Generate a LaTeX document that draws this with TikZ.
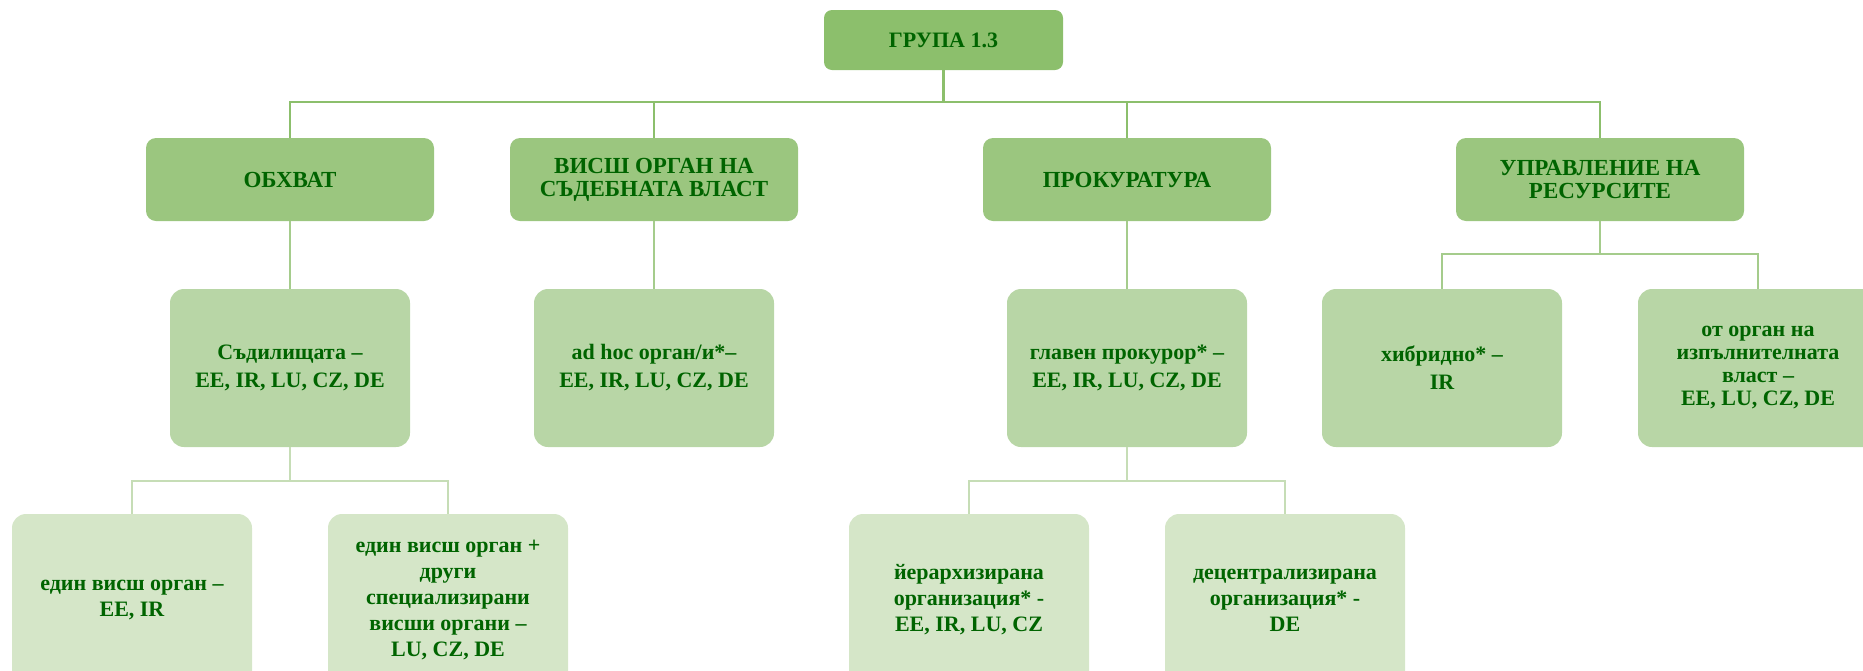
\documentclass[tikz,border=0pt]{standalone}
\usepackage{fontspec}
\setmainfont{Liberation Serif}
\usetikzlibrary{positioning}
\definecolor{headgreen}{HTML}{8CBF6C}
\definecolor{branchgreen}{HTML}{9BC67F}
\definecolor{answergreen}{HTML}{B8D6A6}
\definecolor{detailgreen}{HTML}{D5E6C8}
\definecolor{detailline}{HTML}{C6DDB6}
\definecolor{labelgreen}{HTML}{006400}

\begin{document}
\begin{tikzpicture}[
    node distance=34pt and 38pt,
    box/.style={rectangle, text=labelgreen, align=center, inner sep=0pt, outer sep=0pt, font=\fontsize{11}{13}\selectfont\bfseries},
    head/.style={box, fill=headgreen, minimum width=119.5pt, minimum height=30pt, rounded corners=4pt},
    branch/.style={box, fill=branchgreen, minimum width=144pt, minimum height=41.5pt, rounded corners=5pt, font=\fontsize{11.5}{11.5}\selectfont\bfseries},
    answer/.style={box, fill=answergreen, minimum width=120pt, minimum height=79pt, rounded corners=7pt, font=\fontsize{11}{14}\selectfont\bfseries},
    detail/.style={box, fill=detailgreen, minimum width=120pt, minimum height=86pt, rounded corners=7pt},
    headlink/.style={line width=1.4pt, draw=headgreen},
    branchlink/.style={line width=1.4pt, draw=branchgreen!90},
    detaillink/.style={line width=1.4pt, draw=detailline}
]
    \useasboundingbox (0,0) rectangle (931.5pt,-335pt);
    \node (grupa) [head] at (471.75pt,-20pt) {ГРУПА 1.3};
    \node (obhvat) [branch, below=of grupa, xshift=-326.75pt] {ОБХВАТ};
    \node (vissh) [branch, right=of obhvat] {ВИСШ ОРГАН НА\\СЪДЕБНАТА ВЛАСТ};
    \node (prokuratura) [branch, right=92.5pt of vissh] {ПРОКУРАТУРА};
    \node (upravlenie) [branch, right=92.5pt of prokuratura] {УПРАВЛЕНИЕ НА\\РЕСУРСИТЕ};
    \node (sadilishta) [answer, below=of obhvat] {Съдилищата –\\EE, IR, LU, CZ, DE};
    \node (adhoc) [answer, below=of vissh] {ad hoc орган/и*–\\EE, IR, LU, CZ, DE};
    \node (glaven) [answer, below=of prokuratura] {главен прокурор* –\\EE, IR, LU, CZ, DE};
    \node (hibridno) [answer, below=of upravlenie, xshift=-79pt] {хибридно* –\\IR};
    \node (izpalnitelna) [answer, right=of hibridno, font=\fontsize{11}{11.5}\selectfont\bfseries] {от орган на\\изпълнителната\\власт –\\EE, LU, CZ, DE};
    \node (edin) [detail, below=33.5pt of sadilishta, xshift=-79pt] {един висш орган –\\EE, IR};
    \node (specializirani) [detail, right=of edin] {един висш орган +\\други\\специализирани\\висши органи –\\LU, CZ, DE};
    \node (ierarhizirana) [detail, below=33.5pt of glaven, xshift=-79pt] {йерархизирана\\организация* -\\EE, IR, LU, CZ};
    \node (decentralizirana) [detail, right=of ierarhizirana] {децентрализирана\\организация* -\\DE};
    \draw [headlink] (grupa.south) -- ++(0,-16pt) -| (obhvat.north);
    \draw [headlink] (grupa.south) -- ++(0,-16pt) -| (vissh.north);
    \draw [headlink] (grupa.south) -- ++(0,-16pt) -| (prokuratura.north);
    \draw [headlink] (grupa.south) -- ++(0,-16pt) -| (upravlenie.north);
    \draw [branchlink] (obhvat) -- (sadilishta);
    \draw [branchlink] (vissh) -- (adhoc);
    \draw [branchlink] (prokuratura) -- (glaven);
    \draw [branchlink] (upravlenie.south) -- ++(0,-16.5pt) -| (hibridno.north);
    \draw [branchlink] (upravlenie.south) -- ++(0,-16.5pt) -| (izpalnitelna.north);
    \draw [detaillink] (sadilishta.south) -- ++(0,-17pt) -| (edin.north);
    \draw [detaillink] (sadilishta.south) -- ++(0,-17pt) -| (specializirani.north);
    \draw [detaillink] (glaven.south) -- ++(0,-17pt) -| (ierarhizirana.north);
    \draw [detaillink] (glaven.south) -- ++(0,-17pt) -| (decentralizirana.north);
\end{tikzpicture}
\end{document}
